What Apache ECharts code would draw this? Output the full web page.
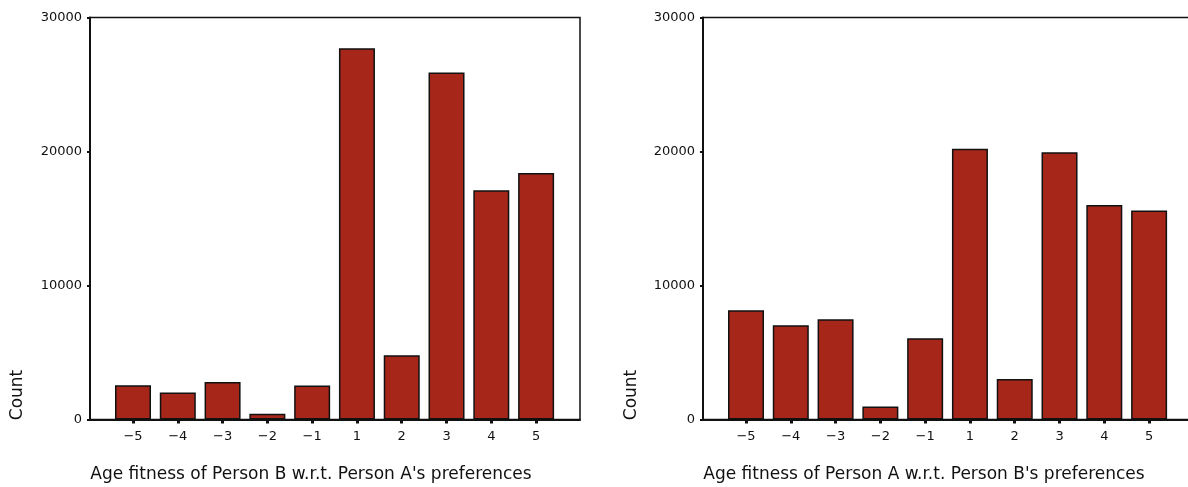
<!DOCTYPE html>
<html>
<head>
<meta charset="utf-8">
<script src="https://cdn.jsdelivr.net/npm/echarts@6/dist/echarts.min.js"></script>
<style>html,body{margin:0;padding:0;background:#fff}#c{width:1188px;height:487px}</style>
</head>
<body>
<div id="c"></div>
<script>
var categories = ['\u22125', '\u22124', '\u22123', '\u22122', '\u22121', '1', '2', '3', '4', '5'];
var leftCounts = [2550, 2020, 2790, 430, 2540, 27700, 4800, 25900, 17100, 18400];
var rightCounts = [8150, 7030, 7480, 970, 6060, 20200, 3030, 19950, 16000, 15600];
var leftTitle = "Age fitness of Person B w.r.t. Person A's preferences";
var rightTitle = "Age fitness of Person A w.r.t. Person B's preferences";
var yName = 'Count';

var FONT = 'DejaVu Sans';
var idx = categories.map(function (c, i) { return i; });
function pairs(arr) { return arr.map(function (v, i) { return [i, v]; }); }

function xAxis(gi, name) {
  return {
    gridIndex: gi, type: 'value', min: -0.96, max: 9.98,
    name: name, nameLocation: 'middle', nameGap: 47,
    nameTextStyle: { fontFamily: FONT, fontSize: 17, color: '#111', padding: [0, 48, 0, 0] },
    axisLine: { show: true, onZero: false, lineStyle: { color: '#111', width: 2 } },
    axisTick: { show: true, customValues: idx, length: 4, lineStyle: { color: '#111', width: 3 } },
    axisLabel: { customValues: idx, margin: 11, fontFamily: FONT, fontSize: 13, color: '#111',
      formatter: function (v) { return categories[Math.round(v)]; } },
    splitLine: { show: false }
  };
}
function yAxis(gi) {
  return {
    gridIndex: gi, type: 'value', min: 0, max: 30000, interval: 10000,
    axisLine: { show: true, onZero: false, lineStyle: { color: '#111', width: 2 } },
    axisTick: { show: true, length: 3, lineStyle: { color: '#111', width: 2 } },
    axisLabel: { margin: 8, fontFamily: FONT, fontSize: 13, color: '#111',
      formatter: function (v) { return String(v); } },
    splitLine: { show: false }
  };
}
function bars(gi, data) {
  return {
    type: 'bar', xAxisIndex: gi, yAxisIndex: gi, data: pairs(data), barWidth: 36,
    itemStyle: { color: '#a6261a', borderColor: '#111', borderWidth: 1.5 },
    animation: false
  };
}

var chart = echarts.init(document.getElementById('c'), null, { renderer: 'canvas' });
chart.setOption({
  backgroundColor: '#fff',
  animation: false,
  grid: [
    { left: 90, top: 17.5, width: 490, height: 402, show: true, borderColor: '#111', borderWidth: 1.5, backgroundColor: 'transparent', outerBoundsMode: 'none' },
    { left: 703, top: 17.5, width: 490, height: 402, show: true, borderColor: '#111', borderWidth: 1.5, backgroundColor: 'transparent', outerBoundsMode: 'none' }
  ],
  xAxis: [xAxis(0, leftTitle), xAxis(1, rightTitle)],
  yAxis: [yAxis(0), yAxis(1)],
  series: [bars(0, leftCounts), bars(1, rightCounts)],
  graphic: [
    { type: 'text', x: 18, y: 395, rotation: Math.PI / 2,
      style: { text: yName, fontFamily: FONT, fontSize: 17, fill: '#111', align: 'center', verticalAlign: 'middle' } },
    { type: 'text', x: 632, y: 395, rotation: Math.PI / 2,
      style: { text: yName, fontFamily: FONT, fontSize: 17, fill: '#111', align: 'center', verticalAlign: 'middle' } }
  ]
});
</script>
</body>
</html>
